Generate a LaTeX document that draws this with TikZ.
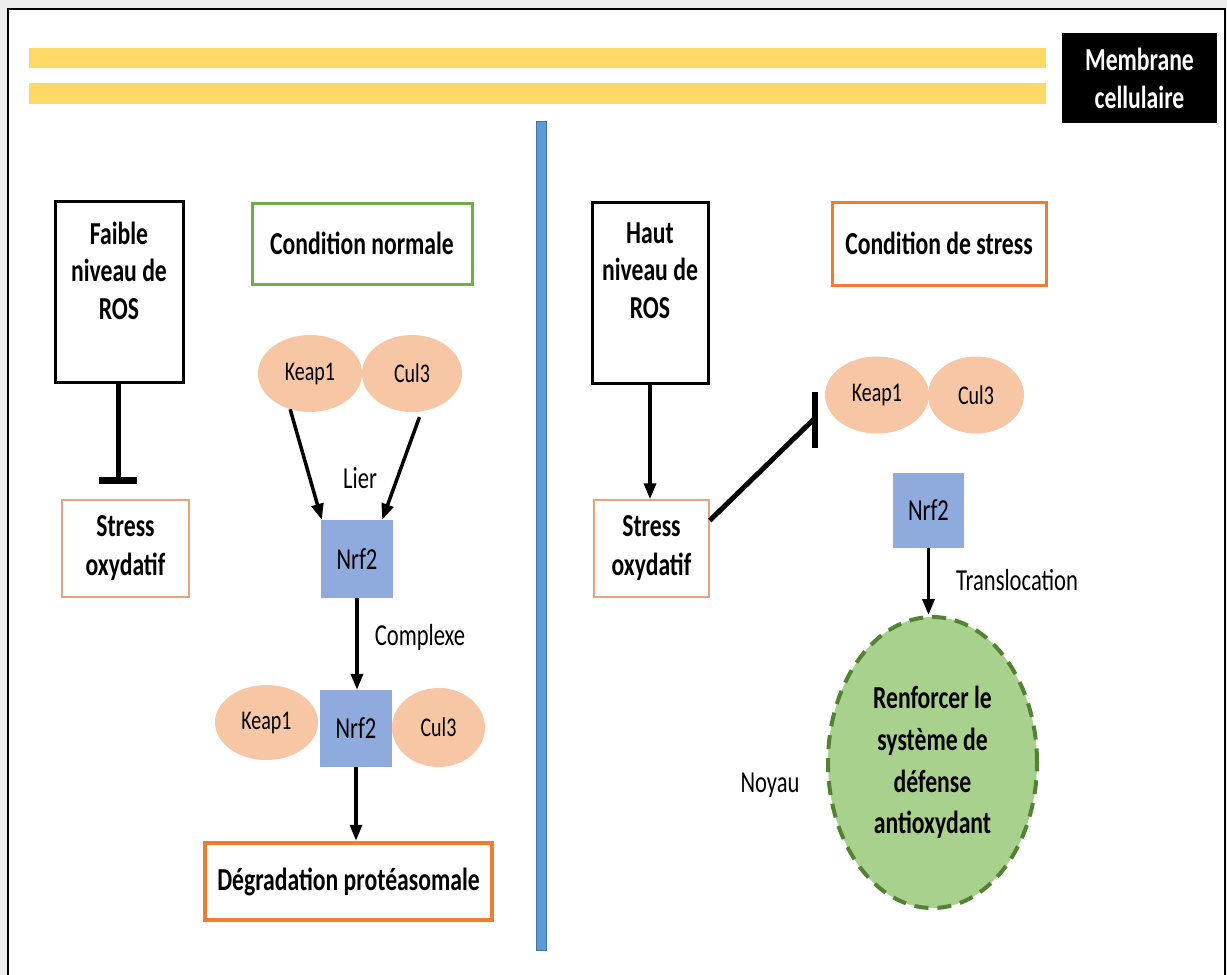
\documentclass[tikz,border=0pt]{standalone}
\usepackage{fontspec}
\newfontfamily\diagfont{Carlito}[FakeStretch=0.74]
\usetikzlibrary{arrows.meta,shapes.geometric,calc}

\definecolor{outergrey}{HTML}{EDEDED}
\definecolor{membraneyellow}{HTML}{FFD966}
\definecolor{dividerblue}{HTML}{5B9BD5}
\definecolor{dividerblueedge}{HTML}{41719C}
\definecolor{condgreen}{HTML}{70AD47}
\definecolor{condorange}{HTML}{ED7D31}
\definecolor{stressedge}{HTML}{E9A27A}
\definecolor{proteinfill}{HTML}{F6C6A5}
\definecolor{nrffill}{HTML}{8FAADC}
\definecolor{nucleusfill}{HTML}{A9D18E}
\definecolor{nucleusedge}{HTML}{548235}

\tikzset{
  boldtxt/.style={font=\diagfont\bfseries\fontsize{32}{37.5}\selectfont, align=center, inner sep=0pt},
  rosbox/.style={draw=black, line width=3pt, fill=white, minimum width=128pt, minimum height=181pt, inner sep=0pt},
  stressbox/.style={draw=stressedge, line width=1.5pt, fill=white, minimum width=127pt, minimum height=97pt,
    inner sep=0pt, align=center, font=\diagfont\bfseries\fontsize{32}{39}\selectfont},
  condbox/.style={line width=3pt, fill=white, minimum width=220pt, minimum height=81pt, inner sep=0pt,
    font=\diagfont\bfseries\fontsize{32}{38}\selectfont},
  degbox/.style={draw=condorange, line width=4.5pt, fill=white, minimum width=287pt, minimum height=77pt,
    inner sep=0pt, font=\diagfont\bfseries\fontsize{32}{38}\selectfont},
  membranebox/.style={fill=black, text=white, minimum width=155pt, minimum height=90pt, inner sep=0pt,
    align=center, font=\diagfont\bfseries\fontsize{32}{38}\selectfont},
  protein/.style={ellipse, fill=proteinfill, inner sep=0pt, minimum width=104pt, minimum height=77pt,
    font=\diagfont\fontsize{27}{32}\selectfont},
  nrfbox/.style={rectangle, fill=nrffill, inner sep=0pt, minimum width=72pt, minimum height=77pt,
    font=\diagfont\fontsize{30.5}{36}\selectfont},
  annot/.style={inner sep=0pt, font=\diagfont\fontsize{30.5}{36}\selectfont},
  nucleusnode/.style={ellipse, fill=nucleusfill, draw=nucleusedge, line width=4pt,
    dash pattern=on 14pt off 9pt, minimum width=209pt, minimum height=291pt, inner sep=0pt,
    align=center, font=\diagfont\bfseries\fontsize{32}{41.7}\selectfont},
  flowarrow/.style={line width=3.5pt, -{Triangle[length=16pt,width=12pt]}},
  inhibline/.style={line width=5pt},
  inhibbar/.style={line width=6.5pt}
}

\begin{document}
\begin{tikzpicture}[x=1pt,y=-1pt]
\useasboundingbox (0,0) rectangle (1227,975);

% page background and frame (open at the bottom)
\fill[outergrey] (0,0) rectangle (1227,975);
\fill[white] (8,9) rectangle (1225,975);
\draw[line width=2.5pt] (8,975) -- (8,9) -- (1225,9) -- (1225,975);

% cell membrane
\fill[membraneyellow] (29,48) rectangle (1046,68);
\fill[membraneyellow] (29,83) rectangle (1046,104);
\node[membranebox] (membrane) at (1139.5,78) {Membrane\\cellulaire};

% divider between the two conditions
\filldraw[fill=dividerblue, draw=dividerblueedge, line width=1pt] (536,121) rectangle (546,950);

% ---------- normal condition ----------
\node[rosbox] (rosL) at (119,291.5) {};
\node[boldtxt] (rosLtxt) at (119,270.5) {Faible\\niveau de\\ROS};
\node[stressbox] (stressL) at (125.5,548.5) {Stress\\oxydatif};

\node[condbox, draw=condgreen] (condN) at (362,243.5) {Condition normale};

\node[protein] (keap1a) at (310,373.5) {Keap1};
\node[protein, minimum width=100pt] (cul3a) at (412,373.5) {Cul3};
\node[nrfbox, minimum height=78pt] (nrf2a) at (357,559) {Nrf2};
\node[annot] (lier) at (360,478) {Lier};
\node[annot] (complexe) at (420,637) {Complexe};

\node[protein, minimum width=103pt, minimum height=75pt] (keap1b) at (266.5,722.5) {Keap1};
\node[protein, minimum width=93pt, minimum height=79pt] (cul3b) at (438.5,727.5) {Cul3};
\node[nrfbox] (nrf2b) at (356,728.5) {Nrf2};

\node[degbox] (degr) at (348.5,881.5) {Dégradation protéasomale};

\coordinate (barL) at (118,480.5);
\draw[inhibline] (rosL.south -| barL) -- (barL);
\draw[inhibbar] ([xshift=-19pt]barL) -- ([xshift=19pt]barL);

\draw[flowarrow] (keap1a.241) -- ([xshift=1pt]nrf2a.north west);
\draw[flowarrow, shorten <=6pt] (cul3a.284) -- ([xshift=-11pt]nrf2a.north east);
\draw[flowarrow] (nrf2a.south) -- (nrf2a.south |- nrf2b.north);
\draw[flowarrow] (nrf2b.south) -- (nrf2b.south |- degr.north);

% ---------- stress condition ----------
\node[rosbox, minimum width=116pt] (rosR) at (650,292.5) {};
\node[boldtxt] (rosRtxt) at (650,270.5) {Haut\\niveau de\\ROS};
\node[stressbox, minimum width=115pt] (stressR) at (651.5,548.5) {Stress\\oxydatif};

\node[condbox, draw=condorange, minimum width=214pt, minimum height=83pt] (condS) at (939,243.5) {Condition de stress};

\node[protein] (keap1c) at (877,395) {Keap1};
\node[protein, minimum width=96pt] (cul3c) at (976,395) {Cul3};
\node[nrfbox, minimum width=71pt, minimum height=75pt] (nrf2c) at (928.5,510.5) {Nrf2};
\node[annot] (transloc) at (1017,580) {Translocation};

\node[nucleusnode] (noyau) at (932.5,762.5) {Renforcer le\\système de\\défense\\antioxydant};
\node[annot] (noyaulbl) at (770,785) {Noyau};

\draw[flowarrow] (rosR.south) -- (rosR.south |- stressR.north);
\draw[flowarrow] (nrf2c.south) -- (nrf2c.south |- noyau.north);

\coordinate (barR) at (815,418);
\draw[inhibline] ([yshift=28pt]stressR.east) -- (barR);
\draw[inhibbar] ([yshift=26pt]barR) -- ([yshift=-30pt]barR);
\end{tikzpicture}
\end{document}
